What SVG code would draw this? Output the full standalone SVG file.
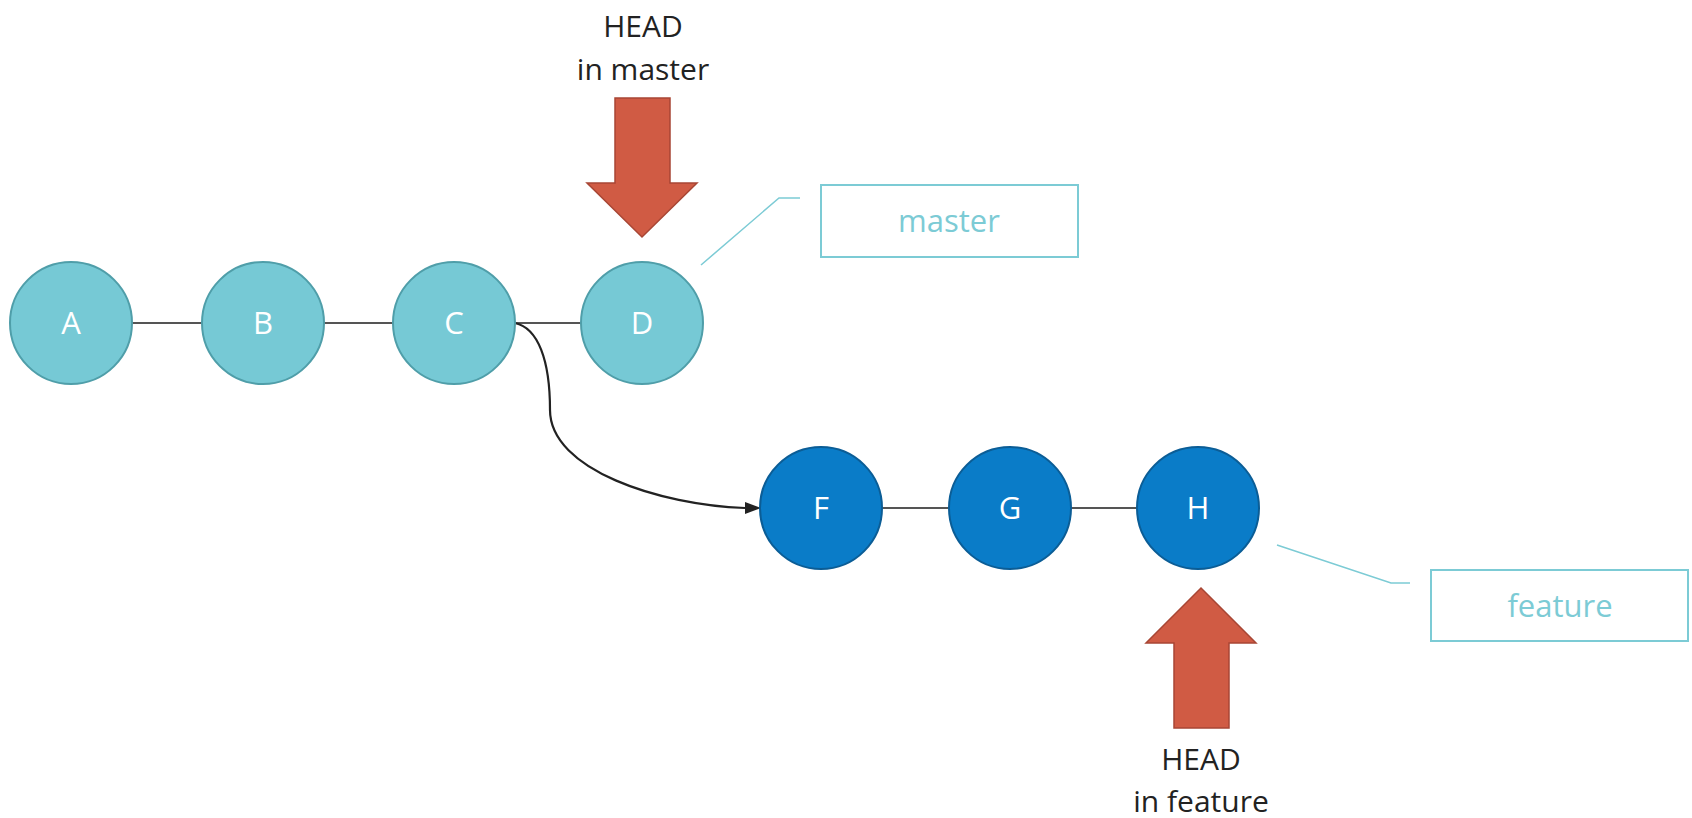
<svg xmlns="http://www.w3.org/2000/svg" width="1692" height="818" viewBox="0 0 1692 818">
<style>
.bg{fill:#ffffff}
.m{fill:#76c9d5;stroke:#4f9ea9;stroke-width:2}
.f{fill:#0a7cc8;stroke:#0b5d96;stroke-width:2}
.lbl{font-family:"Open Sans","Noto Sans","DejaVu Sans",sans-serif;font-size:31px;fill:#ffffff;text-anchor:middle}
.edge{stroke:#555555;stroke-width:2;fill:none}
.curve{stroke:#222222;stroke-width:2.2;fill:none}
.head{fill:#d05b44;stroke:#a84634;stroke-width:1.5}
.htxt{font-family:"Open Sans","Noto Sans","DejaVu Sans",sans-serif;font-size:30px;fill:#222222;text-anchor:middle}
.box{fill:#ffffff;stroke:#7ccbd5;stroke-width:2}
.btxt{font-family:"Open Sans","Noto Sans","DejaVu Sans",sans-serif;font-size:31px;fill:#7ccbd5;text-anchor:middle}
.lead{stroke:#7ccbd5;stroke-width:1.5;fill:none}
</style>
<rect class="bg" x="0" y="0" width="1692" height="818"/>
<g id="connectors">
<line class="edge" x1="132" y1="323" x2="202" y2="323"/>
<line class="edge" x1="324" y1="323" x2="393" y2="323"/>
<line class="edge" x1="515" y1="323" x2="581" y2="323"/>
<line class="edge" x1="882" y1="508" x2="949" y2="508"/>
<line class="edge" x1="1071" y1="508" x2="1137" y2="508"/>
<path class="curve" d="M515,323 C538,328 550,360 550,410 C550,470 660,505 745,508"/>
<path d="M745,502 L761,508 L745,514 z" fill="#222222"/>
<polyline class="lead" points="800,198 779,198 701,265"/>
<polyline class="lead" points="1277,545 1391,583 1410,583"/>
</g>
<g id="node-A"><circle class="m" cx="71" cy="323" r="61"/><text class="lbl" x="71" y="334">A</text></g>
<g id="node-B"><circle class="m" cx="263" cy="323" r="61"/><text class="lbl" x="263" y="334">B</text></g>
<g id="node-C"><circle class="m" cx="454" cy="323" r="61"/><text class="lbl" x="454" y="334">C</text></g>
<g id="node-D"><circle class="m" cx="642" cy="323" r="61"/><text class="lbl" x="642" y="334">D</text></g>
<g id="node-F"><circle class="f" cx="821" cy="508" r="61"/><text class="lbl" x="821" y="519">F</text></g>
<g id="node-G"><circle class="f" cx="1010" cy="508" r="61"/><text class="lbl" x="1010" y="519">G</text></g>
<g id="node-H"><circle class="f" cx="1198" cy="508" r="61"/><text class="lbl" x="1198" y="519">H</text></g>
<g id="head-master">
<text class="htxt" x="643" y="37">HEAD</text>
<text class="htxt" x="643" y="80">in master</text>
<polygon class="head" points="615,98 670,98 670,183 697,183 642,237 587,183 615,183"/>
</g>
<g id="branch-master">
<rect class="box" x="821" y="185" width="257" height="72"/>
<text class="btxt" x="949" y="232">master</text>
</g>
<g id="head-feature">
<polygon class="head" points="1201,588 1256,643 1229,643 1229,728 1174,728 1174,643 1146,643"/>
<text class="htxt" x="1201" y="770">HEAD</text>
<text class="htxt" x="1201" y="812">in feature</text>
</g>
<g id="branch-feature">
<rect class="box" x="1431" y="570" width="257" height="71"/>
<text class="btxt" x="1560" y="617">feature</text>
</g>
</svg>
